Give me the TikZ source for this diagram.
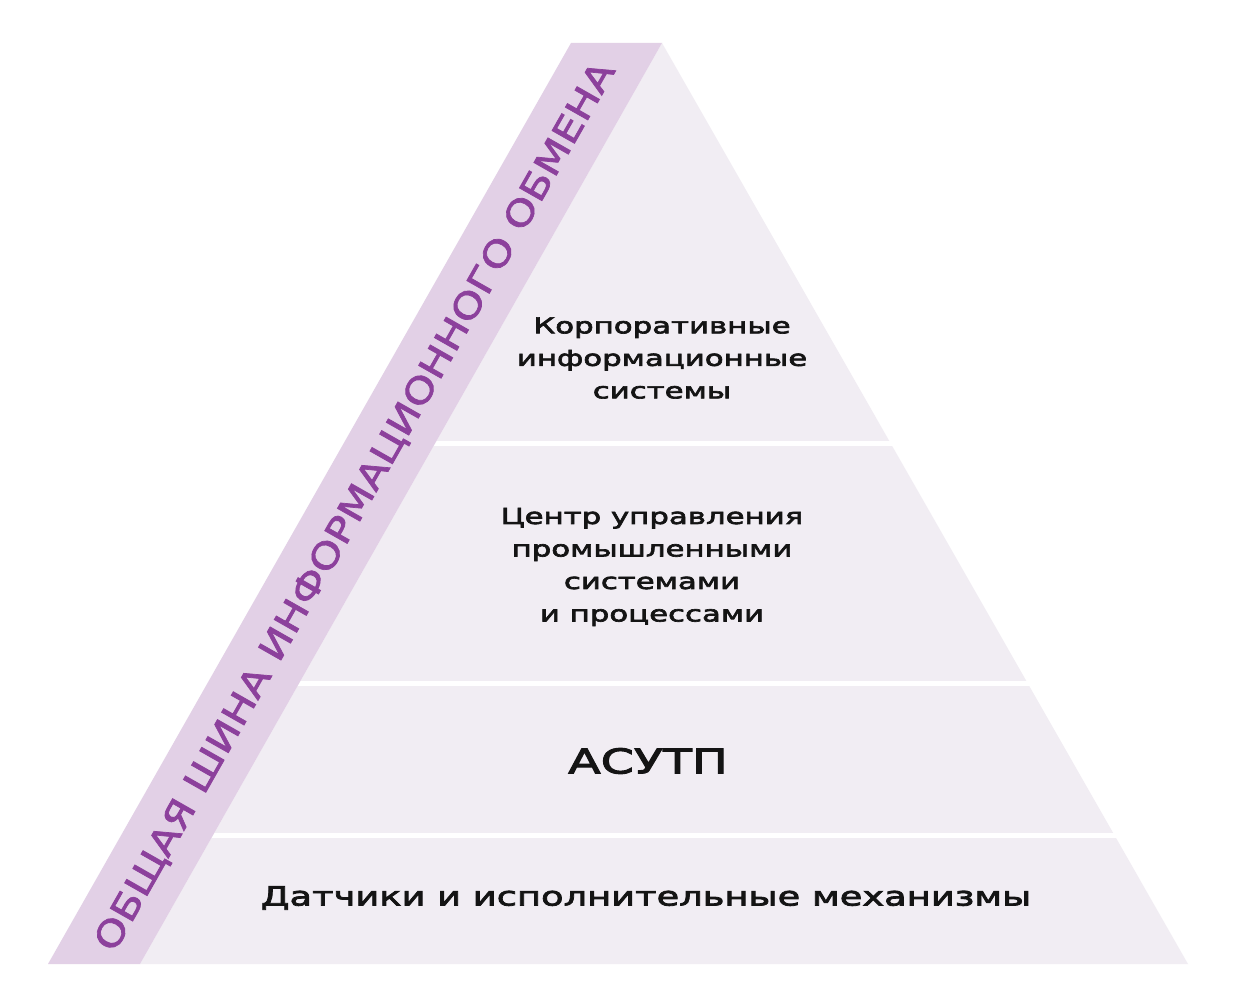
\documentclass[tikz,border=0pt]{standalone}
\usepackage{fontspec}
\setmainfont{DejaVu Sans}[FakeStretch=1.4,FakeBold=3]
\newfontfamily\stripefont{DejaVu Sans}[FakeStretch=1.2,FakeBold=2]
\begin{document}
\begin{tikzpicture}[x=1pt,y=-1pt]
\definecolor{pyr}{RGB}{241,237,243}
\definecolor{band}{RGB}{226,208,230}
\definecolor{violet}{RGB}{140,64,156}
\definecolor{ink}{RGB}{20,20,20}
\tikzset{
  lvl/.style={align=center, text=ink, inner sep=0pt, font=\fontsize{22}{32.5}\selectfont},
  sep/.style={fill=white},
}
\useasboundingbox (0,0) rectangle (1240,1000);
\fill[white] (0,0) rectangle (1240,1000);
% pyramid body
\coordinate (apex) at (662,43);
\coordinate (br) at (1188,964);
\coordinate (bl) at (140,964);
\fill[pyr] (apex) -- (br) -- (bl) -- cycle;
% white gaps between levels
\foreach \ya/\yb in {441/446, 681/686, 833/838} {
  \fill[sep] (100,\ya) rectangle (1240,\yb);
}
% diagonal bus stripe
\coordinate (s1) at (48,964);
\coordinate (s2) at (140,964);
\coordinate (s3) at (662,43);
\coordinate (s4) at (571,43);
\fill[band] (s1) -- (s2) -- (s3) -- (s4) -- cycle;
\node[rotate=60.4, text=violet, inner sep=0pt, font=\stripefont\fontsize{35.5}{35.5}\selectfont] (bus) at (356,507) {ОБЩАЯ ШИНА ИНФОРМАЦИОННОГО ОБМЕНА};
% level labels
\node[lvl] (l1) at (662,358) {Корпоративные\\информационные\\системы};
\node[lvl] (l2) at (652,567) {Центр управления\\промышленными\\системами\\и процессами};
\node[lvl, font=\fontsize{34}{34}\selectfont] (l3) at (648,761) {АСУТП};
\node[lvl, font=\fontsize{26.3}{26.3}\selectfont] (l4) at (646,898) {Датчики и исполнительные механизмы};
\end{tikzpicture}
\end{document}
